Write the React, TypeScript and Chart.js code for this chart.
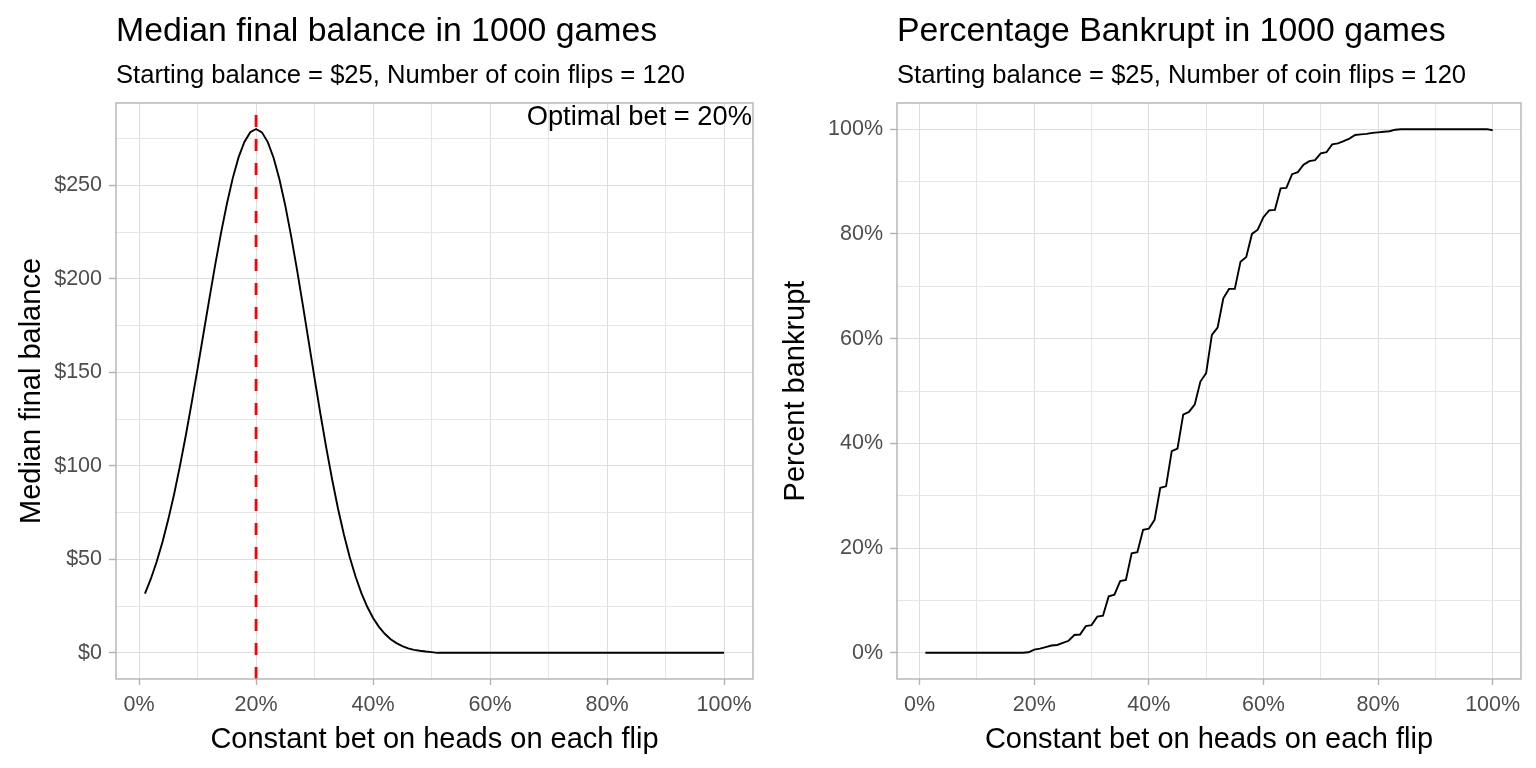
import { useEffect, useRef } from 'react';
import { Chart, registerables } from 'chart.js';

Chart.register(...registerables);

const FONT = '"Liberation Sans", Arial, Helvetica, sans-serif';

// ---- data ----
const betPct = [
  1, 2, 3, 4, 5, 6, 7, 8, 9, 10, 11, 12, 13, 14, 15, 16, 17, 18, 19, 20,
  21, 22, 23, 24, 25, 26, 27, 28, 29, 30, 31, 32, 33, 34, 35, 36, 37, 38, 39, 40,
  41, 42, 43, 44, 45, 46, 47, 48, 49, 50, 51, 52, 53, 54, 55, 56, 57, 58, 59, 60,
  61, 62, 63, 64, 65, 66, 67, 68, 69, 70, 71, 72, 73, 74, 75, 76, 77, 78, 79, 80,
  81, 82, 83, 84, 85, 86, 87, 88, 89, 90, 91, 92, 93, 94, 95, 96, 97, 98, 99, 100,
];

const medianBalance = [
  31.6, 39.5, 48.7, 59.3, 71.5, 85.1, 100.2, 116.5, 133.9, 152.0,
  170.6, 189.1, 207.3, 224.4, 240.0, 253.7, 264.9, 273.2, 278.4, 280.1,
  278.3, 273.1, 264.6, 253.1, 239.0, 222.7, 204.8, 185.8, 166.3, 146.7,
  127.7, 109.6, 92.7, 77.2, 63.4, 51.2, 40.8, 31.9, 24.6, 18.6,
  13.9, 10.2, 7.3, 5.2, 3.6, 2.4, 1.6, 1.1, 0.7, 0.4,
  0, 0, 0, 0, 0, 0, 0, 0, 0, 0,
  0, 0, 0, 0, 0, 0, 0, 0, 0, 0,
  0, 0, 0, 0, 0, 0, 0, 0, 0, 0,
  0, 0, 0, 0, 0, 0, 0, 0, 0, 0,
  0, 0, 0, 0, 0, 0, 0, 0, 0, 0,
];

const bankruptPct = [
  0, 0, 0, 0, 0, 0, 0, 0, 0, 0,
  0, 0, 0, 0, 0, 0, 0, 0, 0.1, 0.6,
  0.8, 1.1, 1.4, 1.5, 1.9, 2.3, 3.4, 3.5, 5.1, 5.3,
  6.9, 7.1, 10.8, 11.1, 13.7, 13.9, 19.0, 19.2, 23.5, 23.7,
  25.4, 31.5, 31.8, 38.5, 39.0, 45.5, 46.0, 47.4, 51.8, 53.4,
  60.7, 62.1, 67.7, 69.5, 69.5, 74.7, 75.6, 80.0, 80.8, 83.2,
  84.5, 84.6, 88.7, 88.8, 91.4, 91.8, 93.2, 93.9, 94.1, 95.4,
  95.6, 97.1, 97.3, 97.7, 98.2, 98.9, 99.0, 99.1, 99.3, 99.4,
  99.5, 99.6, 99.9, 100, 100, 100, 100, 100, 100, 100,
  100, 100, 100, 100, 100, 100, 100, 100, 100, 99.8,
];

const optimalBet = 20;

const xGridValues = [0, 10, 20, 30, 40, 50, 60, 70, 80, 90, 100];
const xMajorTicks = [0, 20, 40, 60, 80, 100];
const balanceGridValues = [0, 25, 50, 75, 100, 125, 150, 175, 200, 225, 250, 275];
const balanceMajorTicks = [0, 50, 100, 150, 200, 250];
const bankruptGridValues = [0, 10, 20, 30, 40, 50, 60, 70, 80, 90, 100];
const bankruptMajorTicks = [0, 20, 40, 60, 80, 100];

const leftTitle = 'Median final balance in 1000 games';
const rightTitle = 'Percentage Bankrupt in 1000 games';
const subtitleText = 'Starting balance = $25, Number of coin flips = 120';
const xTitleText = 'Constant bet on heads on each flip';
const leftYTitle = 'Median final balance';
const rightYTitle = 'Percent bankrupt';
const noteText = 'Optimal bet = 20%';

// ---- drawing helpers ----
const decorPlugin = {
  id: 'panelDecor',
  afterDatasetsDraw(chart: any, _args: any, opts: any) {
    const { ctx, chartArea: a, scales } = chart;
    ctx.save();
    if (opts.vline !== undefined && opts.vline !== null) {
      const x = scales.x.getPixelForValue(opts.vline);
      ctx.strokeStyle = '#FF0000';
      ctx.lineWidth = 2.8;
      ctx.setLineDash([12, 12]);
      ctx.beginPath();
      ctx.moveTo(x, a.bottom);
      ctx.lineTo(x, a.top);
      ctx.stroke();
      ctx.setLineDash([]);
    }
    ctx.strokeStyle = '#B3B3B3';
    ctx.lineWidth = 1.4;
    ctx.strokeRect(a.left, a.top, a.right - a.left, a.bottom - a.top);

    ctx.fillStyle = '#000000';
    if (opts.note) {
      ctx.font = `27.3px ${FONT}`;
      ctx.textAlign = 'right';
      ctx.textBaseline = 'alphabetic';
      ctx.fillText(opts.note, a.right - 1, 124.5);
    }
    // titles
    ctx.textAlign = 'left';
    ctx.textBaseline = 'alphabetic';
    ctx.font = `33.8px ${FONT}`;
    ctx.fillText(opts.title, a.left, 40.5);
    ctx.font = `25.6px ${FONT}`;
    ctx.fillText(opts.subtitle, a.left, 83.3);
    // x title
    ctx.textAlign = 'center';
    ctx.font = `29px ${FONT}`;
    ctx.fillText(opts.xTitle, (a.left + a.right) / 2, 748);
    // y title
    ctx.translate(opts.yTitleX, (a.top + a.bottom) / 2);
    ctx.rotate(-Math.PI / 2);
    ctx.fillText(opts.yTitle, 0, 0);
    ctx.restore();
  },
};

function makeConfig(
  values: number[],
  yMin: number,
  yMax: number,
  yGrid: number[],
  yMajor: number[],
  yFmt: (v: number) => string,
  yScaleWidth: number,
  decor: any,
): any {
  const points = betPct.map((x, i) => ({ x, y: values[i] }));
  const gridColor = (major: number[]) => (ctx: any) =>
    ctx.tick && major.includes(ctx.tick.value) ? '#DEDEDE' : '#E6E6E6';
  const tickColor = (major: number[]) => (ctx: any) =>
    ctx.tick && major.includes(ctx.tick.value) ? '#B3B3B3' : 'rgba(0,0,0,0)';
  return {
    type: 'line',
    data: {
      datasets: [
        {
          data: points,
          borderColor: '#000000',
          borderWidth: 1.9,
          pointRadius: 0,
          tension: 0,
          fill: false,
        },
      ],
    },
    options: {
      responsive: false,
      animation: false,
      events: [],
      layout: { padding: { left: 0, right: 15, top: 103, bottom: 0 } },
      plugins: {
        legend: { display: false },
        tooltip: { enabled: false },
        title: { display: false },
        panelDecor: decor,
      },
      scales: {
        x: {
          type: 'linear',
          min: -3.95,
          max: 104.95,
          afterBuildTicks: (scale: any) => {
            scale.ticks = xGridValues.map((v) => ({ value: v }));
          },
          afterFit: (scale: any) => {
            scale.height = 89;
            scale.paddingLeft = 0;
            scale.paddingRight = 0;
          },
          border: { display: false },
          grid: {
            color: gridColor(xMajorTicks),
            lineWidth: 1,
            drawTicks: true,
            tickLength: 6,
            tickColor: tickColor(xMajorTicks),
            tickWidth: 1.4,
          },
          ticks: {
            autoSkip: false,
            maxRotation: 0,
            minRotation: 0,
            padding: 7,
            color: '#4D4D4D',
            font: { family: FONT, size: 21.5 },
            callback: (v: number) => (xMajorTicks.includes(v) ? `${v}%` : ''),
          },
        },
        y: {
          type: 'linear',
          min: yMin,
          max: yMax,
          afterBuildTicks: (scale: any) => {
            scale.ticks = yGrid.map((v) => ({ value: v }));
          },
          afterFit: (scale: any) => {
            scale.width = yScaleWidth;
            scale.paddingTop = 0;
            scale.paddingBottom = 0;
          },
          border: { display: false },
          grid: {
            color: gridColor(yMajor),
            lineWidth: 1,
            drawTicks: true,
            tickLength: 7,
            tickColor: tickColor(yMajor),
            tickWidth: 1.4,
          },
          ticks: {
            autoSkip: false,
            padding: 7,
            color: '#4D4D4D',
            font: { family: FONT, size: 21.5 },
            callback: (v: number) => (yMajor.includes(v) ? yFmt(v) : ''),
          },
        },
      },
    },
    plugins: [decorPlugin],
  };
}

export default function App() {
  const leftRef = useRef<HTMLCanvasElement>(null);
  const rightRef = useRef<HTMLCanvasElement>(null);

  useEffect(() => {
    if (!leftRef.current || !rightRef.current) return;
    const left = new Chart(
      leftRef.current,
      makeConfig(
        medianBalance,
        -14,
        294,
        balanceGridValues,
        balanceMajorTicks,
        (v) => `$${v}`,
        116,
        {
          title: leftTitle,
          subtitle: subtitleText,
          xTitle: xTitleText,
          yTitle: leftYTitle,
          yTitleX: 40,
          note: noteText,
          vline: optimalBet,
        },
      ),
    );
    const right = new Chart(
      rightRef.current,
      makeConfig(
        bankruptPct,
        -5,
        105,
        bankruptGridValues,
        bankruptMajorTicks,
        (v) => `${v}%`,
        129,
        {
          title: rightTitle,
          subtitle: subtitleText,
          xTitle: xTitleText,
          yTitle: rightYTitle,
          yTitleX: 35.5,
          note: null,
          vline: null,
        },
      ),
    );
    return () => {
      left.destroy();
      right.destroy();
    };
  }, []);

  return (
    <div
      style={{
        position: 'absolute',
        left: 0,
        top: 0,
        width: 1536,
        height: 768,
        background: '#FFFFFF',
        overflow: 'hidden',
      }}
    >
      <canvas
        ref={leftRef}
        width={768}
        height={768}
        style={{ position: 'absolute', left: 0, top: 0, width: 768, height: 768 }}
      />
      <canvas
        ref={rightRef}
        width={768}
        height={768}
        style={{ position: 'absolute', left: 768, top: 0, width: 768, height: 768 }}
      />
    </div>
  );
}
